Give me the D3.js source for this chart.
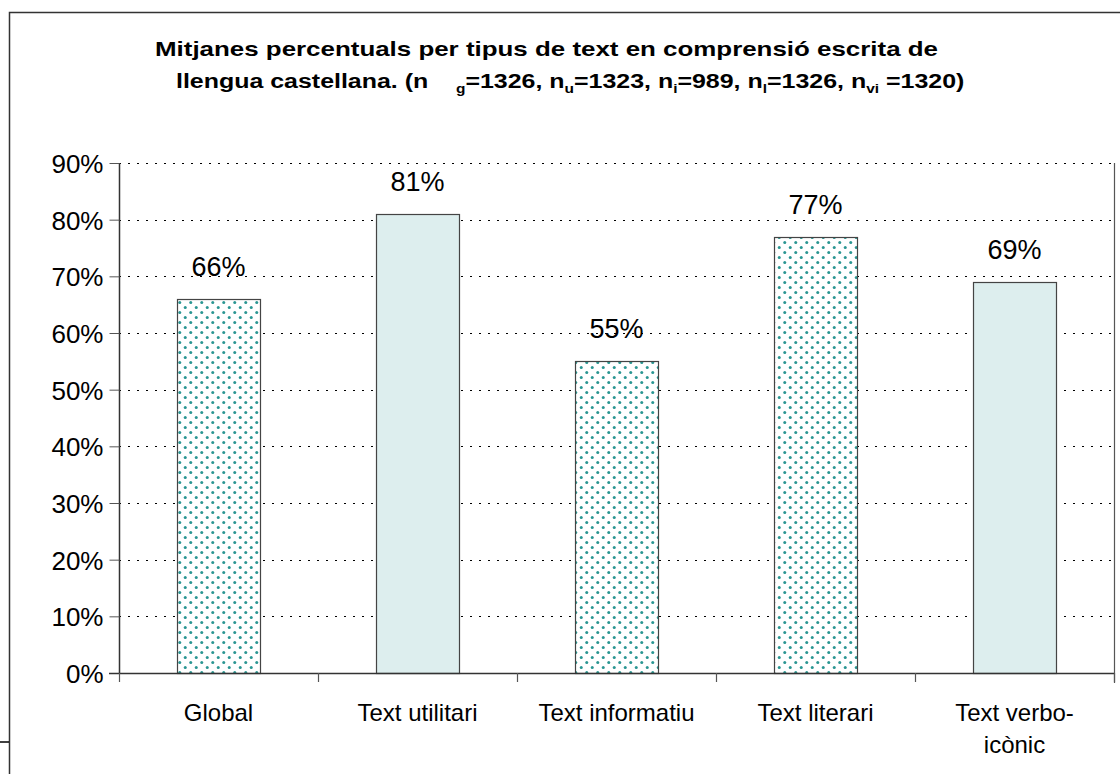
<!DOCTYPE html>
<html><head><meta charset="utf-8">
<script src="https://cdn.jsdelivr.net/npm/d3@7/dist/d3.min.js"></script>
<style>body{margin:0;background:#fff}svg{display:block}text{font-family:"Liberation Sans",Arial,sans-serif}</style>
</head><body>
<script>
const categories = [["Global"], ["Text utilitari"], ["Text informatiu"], ["Text literari"], ["Text verbo-", "icònic"]];
const values = [66, 81, 55, 77, 69];
const fills = ["dots", "solid", "dots", "dots", "solid"];
const yTicks = [0, 10, 20, 30, 40, 50, 60, 70, 80, 90];
const titleLine1 = "Mitjanes percentuals per tipus de text en comprensió escrita de";
const titleLine2 = [["llengua castellana. (n    ", null], ["g", "sub"], ["=1326, n", null], ["u", "sub"], ["=1323, n", null], ["i", "sub"], ["=989, n", null], ["l", "sub"], ["=1326, n", null], ["vi", "sub"], [" =1320)", null]];

const W = 1120, H = 774;
const svg = d3.select("body").append("svg").attr("width", W).attr("height", H);
const defs = svg.append("defs");
const pat = defs.append("pattern").attr("id", "dots").attr("patternUnits", "userSpaceOnUse")
  .attr("width", 11).attr("height", 10).attr("x", 177).attr("y", 0);
pat.append("rect").attr("width", 11).attr("height", 10).attr("fill", "#fff");
[[2.75, 2.5], [8.25, 7.5]].forEach(([cx, cy]) =>
  pat.append("circle").attr("cx", cx).attr("cy", cy).attr("r", 1.5).attr("fill", "#2a9692"));

// outer frame
svg.append("path").attr("d", "M9.5,774 V12.5 H1120").attr("fill", "none").attr("stroke", "#333").attr("stroke-width", 1.5);
svg.append("line").attr("x1", 0).attr("x2", 9).attr("y1", 742).attr("y2", 742).attr("stroke", "#000").attr("stroke-width", 1.5);

const L = 119, R = 1114, T = 163, B = 673;
const x = d3.scaleBand().domain(d3.range(values.length)).range([L, R]).paddingInner(0).paddingOuter(0);
const y = d3.scaleLinear().domain([0, 90]).range([B, T]);

// gridlines
svg.append("g").selectAll("line").data(yTicks.filter(d => d > 0)).join("line")
  .attr("x1", L).attr("x2", R).attr("y1", d => Math.round(y(d)) + 0.5).attr("y2", d => Math.round(y(d)) + 0.5)
  .attr("stroke", "#000").attr("stroke-width", 1).attr("stroke-dasharray", "2,7");

// bars
const bw = x.bandwidth() * 0.417;
svg.append("g").selectAll("rect").data(values).join("rect")
  .attr("x", (d, i) => Math.round(x(i) + (x.bandwidth() - bw) / 2) + 0.5)
  .attr("y", d => Math.round(y(d)) + 0.5)
  .attr("width", Math.round(bw))
  .attr("height", d => B - Math.round(y(d)))
  .attr("fill", (d, i) => fills[i] === "dots" ? "url(#dots)" : "#ddeeee")
  .attr("stroke", "#444").attr("stroke-width", 1.2);

// value labels
svg.append("g").selectAll("text").data(values).join("text")
  .attr("x", (d, i) => x(i) + x.bandwidth() / 2)
  .attr("y", d => y(d) - 23)
  .attr("text-anchor", "middle").attr("font-size", 27).attr("fill", "#000")
  .text(d => d + "%");

// right border
svg.append("line").attr("x1", R + 0.5).attr("x2", R + 0.5).attr("y1", T).attr("y2", B + 10).attr("stroke", "#555").attr("stroke-width", 1.2);

// y axis
const yAxis = d3.axisLeft(y).tickValues(yTicks).tickSize(10).tickFormat(d => d + "%");
const ga = svg.append("g").attr("transform", `translate(${L + 0.5},0)`).call(yAxis);
ga.select(".domain").attr("stroke", "#333").attr("stroke-width", 1.5).attr("d", `M0,${T}V${B}`);
ga.selectAll(".tick line").attr("stroke", "#555");
ga.selectAll(".tick text").attr("font-size", 26).attr("fill", "#000").attr("x", -16).attr("dy", "0.36em")
  .style("font-family", '"Liberation Sans",Arial,sans-serif');

// x axis
svg.append("line").attr("x1", L - 10).attr("x2", R).attr("y1", B + 0.5).attr("y2", B + 0.5).attr("stroke", "#333").attr("stroke-width", 1.5);
svg.append("g").selectAll("line").data(d3.range(values.length + 1)).join("line")
  .attr("x1", i => Math.round(L + i * x.step()) + 0.5).attr("x2", i => Math.round(L + i * x.step()) + 0.5)
  .attr("y1", B).attr("y2", B + 9).attr("stroke", "#555").attr("stroke-width", 1.2);

const cl = svg.append("g").selectAll("text").data(categories).join("text")
  .attr("text-anchor", "middle").attr("font-size", 24).attr("fill", "#000");
cl.each(function (lines, i) {
  const t = d3.select(this);
  lines.forEach((s, k) => t.append("tspan").attr("x", x(i) + x.bandwidth() / 2).attr("y", 721 + k * 32).text(s));
});

// title
svg.append("text").attr("x", 155).attr("y", 56).attr("font-size", 21).attr("font-weight", "bold")
  .attr("textLength", 783).attr("lengthAdjust", "spacingAndGlyphs").text(titleLine1);
const t2 = svg.append("text").attr("x", 176).attr("y", 88).attr("font-size", 21).attr("font-weight", "bold")
  .style("white-space", "pre");
titleLine2.forEach(([s, kind], i) => {
  const ts = t2.append("tspan").text(s);
  if (kind === "sub") ts.attr("font-size", 13).attr("dy", 5);
  else if (i > 0) ts.attr("dy", -5);
});
const tw = t2.node().getComputedTextLength();
t2.attr("transform", `translate(176,0) scale(${789 / tw},1) translate(-176,0)`);
</script>
</body></html>
